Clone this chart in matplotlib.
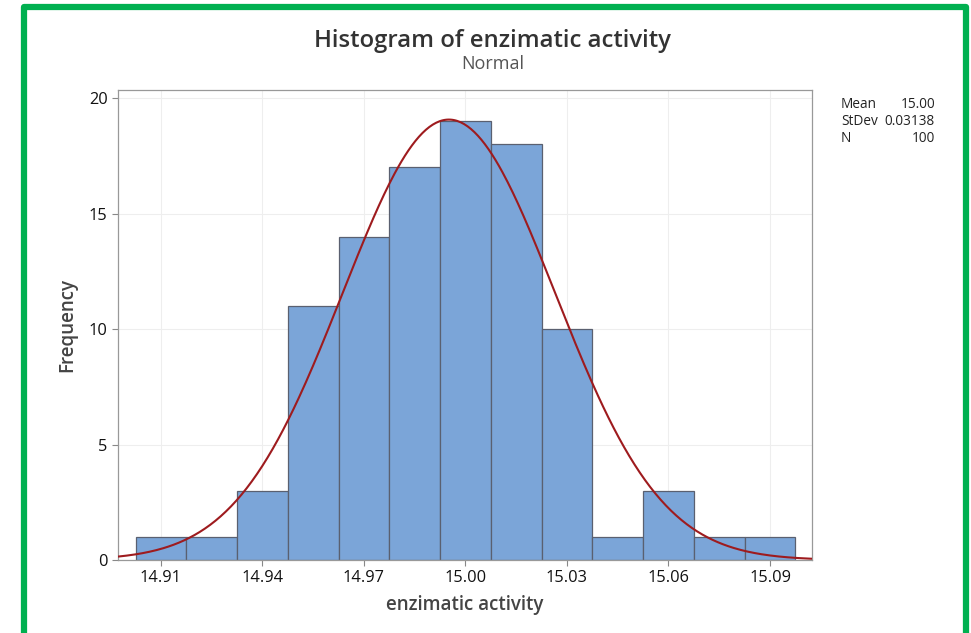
import numpy as np
import matplotlib.pyplot as plt
from matplotlib.patches import Rectangle

plt.rcParams['font.family'] = ['Open Sans', 'DejaVu Sans']

# binned enzimatic activity measurements
bin_centers = [14.91, 14.925, 14.94, 14.955, 14.97, 14.985, 15.00,
               15.015, 15.03, 15.045, 15.06, 15.075, 15.09]
counts = [1, 1, 3, 11, 14, 17, 19, 18, 10, 1, 3, 1, 1]
bin_width = 0.015

mean = 14.9951
stdev = 0.03138
n = 100

xticks = [14.91, 14.94, 14.97, 15.00, 15.03, 15.06, 15.09]
yticks = [0, 5, 10, 15, 20]

fig = plt.figure(figsize=(9.71, 6.33), dpi=100)
ax = fig.add_axes([0.1215, 0.1153, 0.7147, 0.7425])

ax.bar(bin_centers, counts, width=bin_width, color='#7BA5D8',
       edgecolor='#5A6070', linewidth=0.9, zorder=2)

# fitted normal curve scaled to counts
xs = np.linspace(14.8973, 15.1024, 400)
pdf = n * bin_width / (stdev * np.sqrt(2 * np.pi)) * np.exp(-0.5 * ((xs - mean) / stdev) ** 2)
ax.plot(xs, pdf, color='#9E1B1E', linewidth=1.5, zorder=3)

ax.set_xlim(14.8973, 15.1024)
ax.set_ylim(0, 20.35)
ax.set_xticks(xticks)
ax.set_xticklabels([f'{t:.2f}' for t in xticks])
ax.set_yticks(yticks)
ax.tick_params(labelsize=11.8, colors='#888888', labelcolor='#111111', length=4, width=0.8)
ax.grid(True, color='#EEEEEE', linewidth=0.8, zorder=0)
ax.set_axisbelow(True)
for s in ax.spines.values():
    s.set_color('#999999')
    s.set_linewidth(0.9)

ax.set_xlabel('enzimatic activity', fontsize=13.5, color='#444444', fontweight='semibold', labelpad=6)
ax.set_ylabel('Frequency', fontsize=13.5, color='#444444', fontweight='semibold', labelpad=8)

fig.text(0.5074, 0.936, 'Histogram of enzimatic activity', ha='center', va='center',
         fontsize=17.2, color='#333333', fontweight='semibold')
fig.text(0.5074, 0.899, 'Normal', ha='center', va='center', fontsize=13, color='#555555')

# summary statistics
stats = [('Mean', f'{mean:.2f}'), ('StDev', f'{stdev:.5f}'), ('N', f'{n}')]
for i, (name, val) in enumerate(stats):
    y = 1 - (104 + i * 17.5) / 633
    fig.text(841 / 971, y, name, ha='left', va='center', fontsize=9.8, color='#222222')
    fig.text(935 / 971, y, val, ha='right', va='center', fontsize=9.8, color='#222222')

# green frame
fig.patches.append(Rectangle((24 / 971, -0.05), (966 - 24) / 971, 1 - 7.5 / 633 + 0.05,
                             transform=fig.transFigure, fill=False,
                             edgecolor='#00B050', linewidth=4.5, joinstyle='round'))

fig.savefig('out.png', dpi=100)
